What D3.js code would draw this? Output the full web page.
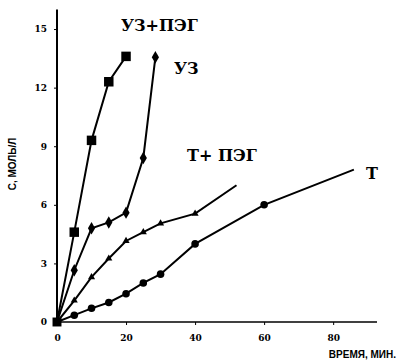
<!DOCTYPE html>
<html>
<head>
<meta charset="utf-8">
<script src="https://cdn.jsdelivr.net/npm/d3@7"></script>
<style>
body { margin: 0; background: #fff; }
svg { display: block; }
</style>
</head>
<body>
<div class="chart"></div>
<script>
// data (time in min, concentration)
const xTicks = [0, 20, 40, 60, 80]
const yTicks = [0, 3, 6, 9, 12, 15]

const uzPegT = [0, 5, 10, 15, 20]
const uzPegC = [0, 4.6, 9.3, 12.3, 13.6]

const uzT = [0, 5, 10, 15, 20, 25, 28.5]
const uzC = [0, 2.65, 4.8, 5.1, 5.6, 8.4, 13.55]

const tPegT = [0, 5, 10, 15, 20, 25, 30, 40, 52]
const tPegC = [0, 1.1, 2.3, 3.25, 4.15, 4.6, 5.05, 5.55, 7.0]

const tT = [0, 5, 10, 15, 20, 25, 30, 40, 60, 86]
const tC = [0, 0.35, 0.7, 1.0, 1.45, 2.0, 2.45, 4.0, 6.0, 7.8]

const series = [
  {name: 'УЗ+ПЭГ', t: uzPegT, c: uzPegC, sym: d3.symbolSquare, size: 90, plain: []},
  {name: 'УЗ', t: uzT, c: uzC, sym: d3.symbolDiamond, size: 45, plain: []},
  {name: 'Т+ ПЭГ', t: tPegT, c: tPegC, sym: d3.symbolTriangle, size: 22, plain: [52]},
  {name: 'Т', t: tT, c: tC, sym: d3.symbolCircle, size: 45, plain: [86]}
]

const serif = '"DejaVu Serif", "Liberation Serif", serif'
const sans = '"Liberation Sans", "DejaVu Sans", sans-serif'

const width = 397, height = 363

const xScale = d3.scaleLinear().domain([0, 92.7]).range([57, 377])
const yScale = d3.scaleLinear().domain([0, 16]).range([322, 9.5])

const svg = d3.select('.chart').append('svg')
  .attr('width', width)
  .attr('height', height)

svg.append('g')
  .attr('class', 'y axis')
  .attr('transform', 'translate(' + xScale(0) + ',0)')
  .call(d3.axisLeft(yScale).tickValues(yTicks).tickSize(3).tickPadding(7))
  .call(g => g.select('.domain').attr('stroke-width', 2).attr('d', 'M0,' + yScale(16) + 'V' + yScale(0)))

svg.append('g')
  .attr('class', 'x axis')
  .attr('transform', 'translate(0,' + yScale(0) + ')')
  .call(d3.axisBottom(xScale).tickValues(xTicks).tickSize(3).tickPadding(10))
  .call(g => g.select('.domain').attr('stroke-width', 1.5).attr('d', 'M' + xScale(0) + ',0H' + xScale(92.7)))

svg.selectAll('.axis text')
  .style('font-family', serif)
  .style('font-weight', 'bold')
  .style('font-size', '9px')

const line = d3.line()
  .x(d => xScale(d[0]))
  .y(d => yScale(d[1]))

series.forEach(s => {
  const pts = s.t.map((t, i) => [t, s.c[i]])
  svg.append('path')
    .datum(pts)
    .attr('d', line)
    .attr('fill', 'none')
    .attr('stroke', '#000')
    .attr('stroke-width', 2)

  svg.selectAll(null)
    .data(pts.filter(p => p[0] > 0 && !s.plain.includes(p[0])))
    .enter().append('path')
    .attr('d', d3.symbol().type(s.sym).size(s.size))
    .attr('transform', d => 'translate(' + xScale(d[0]) + ',' + yScale(d[1]) + ')')
    .attr('fill', '#000')
})

// origin marker
svg.append('path')
  .attr('d', d3.symbol().type(d3.symbolSquare).size(80))
  .attr('transform', 'translate(' + xScale(0) + ',' + yScale(0) + ')')

// series labels
const labels = [
  {text: 'УЗ+ПЭГ', x: 121, y: 31},
  {text: 'УЗ', x: 174, y: 74},
  {text: 'Т+ ПЭГ', x: 187, y: 161},
  {text: 'Т', x: 366, y: 179}
]
svg.selectAll('.lbl')
  .data(labels)
  .enter().append('text')
  .attr('class', 'lbl')
  .attr('x', d => d.x)
  .attr('y', d => d.y)
  .style('font-family', serif)
  .style('font-weight', 'bold')
  .style('font-size', '16px')
  .text(d => d.text)

svg.append('text')
  .attr('transform', 'translate(16,164) rotate(-90)')
  .attr('text-anchor', 'middle')
  .style('font-family', sans)
  .style('font-weight', 'bold')
  .style('font-size', '10px')
  .text('С, МОЛЬ/Л')

svg.append('text')
  .attr('x', 396)
  .attr('y', 358)
  .attr('text-anchor', 'end')
  .style('font-family', sans)
  .style('font-weight', 'bold')
  .style('font-size', '10px')
  .text('ВРЕМЯ, МИН.')
</script>
</body>
</html>
